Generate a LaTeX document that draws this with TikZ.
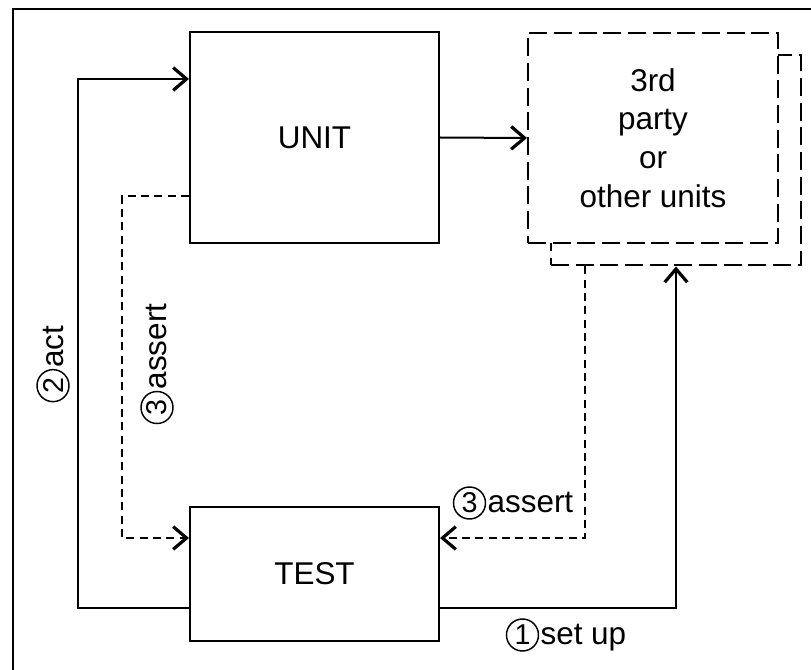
\documentclass[tikz,border=0pt]{standalone}
\usepackage{fontspec}
\setmainfont{Liberation Sans}
\usetikzlibrary{arrows.meta}
\newcommand{\stepno}[1]{\tikz[baseline=(n.base)] \node[circle, draw, line width=1.1pt,
  inner sep=0pt, minimum size=24pt, font=\fontsize{21.5}{22}\selectfont] (n) {#1};\hspace{1pt}}

\begin{document}
\begin{tikzpicture}[x=0.75pt, y=-0.75pt,
    every node/.style={font=\fontsize{23.6}{29}\selectfont},
    box/.style={draw, line width=1.5pt, inner sep=0pt, minimum width=186.75pt},
    ghostbox/.style={draw, line width=1.5pt, dash pattern=on 13.5pt off 5pt,
      inner sep=0pt, minimum width=187.5pt, minimum height=157.5pt, align=center},
    flow/.style={line width=1.5pt, -{Straight Barb[length=10pt, width=17pt, line width=2.4pt]}},
    back/.style={flow, dash pattern=on 6pt off 4pt}]
  \useasboundingbox (0,0) rectangle (811,670);
  % outer frame (runs past the page on the right and bottom)
  \draw[line width=1.5pt] (12.5,9.5) rectangle (840,700);

  % the boxes
  \node[box, minimum height=158.25pt] (unit) at (314.5,137.5) {UNIT};
  \node[box, minimum height=100.5pt] (test) at (314.5,574) {TEST};
  \node[ghostbox] (partyback) at (676,160.5) {};
  \node[ghostbox, fill=white] (party) at (653,138) {3rd\\party\\or\\other units};

  % connectors
  \draw[flow] (unit.east) -- (party.west);
  \draw[flow] ([yshift=-25.5pt]test.west) -- ++(-111,0) |- ([yshift=43.9pt]unit.west);
  \draw[back] ([yshift=-43.9pt]unit.west) -- ++(-67,0) |- ([yshift=27pt]test.west);
  \draw[flow] ([yshift=-25.5pt]test.east) -| (partyback.south);
  \draw[back] ([xshift=-68.25pt]partyback.south) |- ([yshift=27pt]test.east);

  % labels
  \node[rotate=90] (act) at (53,364) {\stepno{2}act};
  \node[rotate=90] (assertl) at (157,364) {\stepno{3}assert};
  \node (assertr) at (513,503) {\stepno{3}assert};
  \node (setup) at (566,635) {\stepno{1}set up};
\end{tikzpicture}
\end{document}
